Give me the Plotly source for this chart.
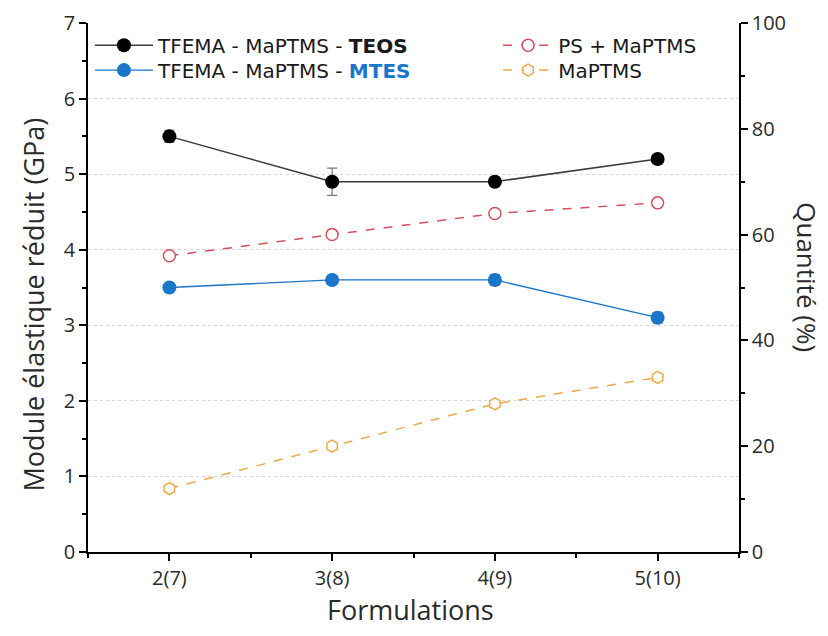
import plotly.graph_objects as go

categories = ["2(7)", "3(8)", "4(9)", "5(10)"]
x_pos = [1, 2, 3, 4]

teos = [5.5, 4.9, 4.9, 5.2]
teos_err = [0.08, 0.18, 0.06, 0.06]
mtes = [3.5, 3.6, 3.6, 3.1]
mtes_err = [0.05, 0.05, 0.07, 0.07]
ps_maptms = [56, 60, 64, 66]
maptms = [12, 20, 28, 33]

FONT = "'Open Sans', Lato, sans-serif"
LEG_FONT = "'DejaVu Sans', 'Open Sans', sans-serif"
TXT = "#2b2b2b"
BLUE = "#1a76c8"
RED = "#d4505a"
ORANGE = "#f0a848"

fig = go.Figure()
fig.add_trace(go.Scatter(
    x=x_pos, y=teos, name="TFEMA - MaPTMS - <b>TEOS</b>", mode="lines+markers",
    line=dict(color="#3a3a3a", width=1.5),
    marker=dict(color="black", size=14, symbol="circle"),
    error_y=dict(type="data", array=teos_err, color="#777", thickness=1.2, width=5),
    legend="legend"))
fig.add_trace(go.Scatter(
    x=x_pos, y=mtes, name=f"TFEMA - MaPTMS - <b><span style='color:{BLUE}'>MTES</span></b>",
    mode="lines+markers",
    line=dict(color=BLUE, width=1.3),
    marker=dict(color=BLUE, size=14, symbol="circle"),
    error_y=dict(type="data", array=mtes_err, color="#777", thickness=1.2, width=5),
    legend="legend2"))
fig.add_trace(go.Scatter(
    x=x_pos, y=ps_maptms, name="PS + MaPTMS", mode="lines+markers", yaxis="y2",
    line=dict(color=RED, width=1.5, dash="dash"),
    marker=dict(color="white", size=12, symbol="circle",
                line=dict(color=RED, width=1.5)),
    legend="legend3"))
fig.add_trace(go.Scatter(
    x=x_pos, y=maptms, name="MaPTMS", mode="lines+markers", yaxis="y2",
    line=dict(color=ORANGE, width=1.5, dash="dash"),
    marker=dict(color="white", size=12, symbol="hexagon",
                line=dict(color=ORANGE, width=1.5)),
    legend="legend4"))

axis_common = dict(
    showline=True, linecolor="black", linewidth=1.5,
    ticks="outside", ticklen=7, tickwidth=1.5, tickcolor="black",
    tickfont=dict(family=FONT, size=20, color=TXT),
    zeroline=False, automargin=False,
)

title_font = dict(family=FONT, size=27, color=TXT)


def leg(x, y, iw):
    return dict(x=x, y=y, xanchor="left", yanchor="middle",
                bgcolor="rgba(255,255,255,0)", borderwidth=0,
                font=dict(family=LEG_FONT, size=20, color="#1a1a1a"),
                itemwidth=iw)


fig.update_layout(
    width=820, height=628,
    margin=dict(l=80, r=89, t=15, b=84),
    paper_bgcolor="white", plot_bgcolor="white",
    font=dict(family=FONT, color=TXT),
    showlegend=True,
    xaxis=dict(
        **axis_common,
        range=[0.5, 4.5], tickmode="array", tickvals=x_pos, ticktext=categories,
        showgrid=False,
        minor=dict(tickvals=[0.5, 1.5, 2.5, 3.5, 4.5], ticklen=4, tickwidth=1.5,
                   tickcolor="black", ticks="outside", showgrid=False),
    ),
    yaxis=dict(
        **axis_common,
        range=[0, 7], tickmode="linear", tick0=0, dtick=1,
        showgrid=True, gridcolor="#d4d4d4", gridwidth=1, griddash="dot",
        minor=dict(dtick=0.5, ticklen=4, tickwidth=1.5, tickcolor="black",
                   ticks="outside", showgrid=False),
    ),
    yaxis2=dict(
        **axis_common,
        overlaying="y", side="right", anchor="x",
        range=[0, 100], tickmode="linear", tick0=0, dtick=20,
        showgrid=False,
        minor=dict(dtick=10, ticklen=4, tickwidth=1.5, tickcolor="black",
                   ticks="outside", showgrid=False),
    ),
    legend=leg(0.003, 0.958, 58),
    legend2=leg(0.003, 0.911, 58),
    legend3=leg(0.630, 0.958, 50),
    legend4=leg(0.630, 0.911, 50),
    annotations=[
        dict(text="Quantité (%)", textangle=90, xref="paper", yref="paper",
             x=1.104, y=0.52, xanchor="center", yanchor="middle", showarrow=False,
             font=dict(family=FONT, size=26, color=TXT)),
        dict(text="Module élastique réduit (GPa)", textangle=-90, xref="paper",
             yref="paper", x=-0.0845, y=0.468, xanchor="center", yanchor="middle",
             showarrow=False, font=title_font),
        dict(text="Formulations", xref="paper", yref="paper",
             x=0.495, y=-0.108, xanchor="center", yanchor="middle",
             showarrow=False, font=title_font),
    ],
)

fig.write_html("out.html")
